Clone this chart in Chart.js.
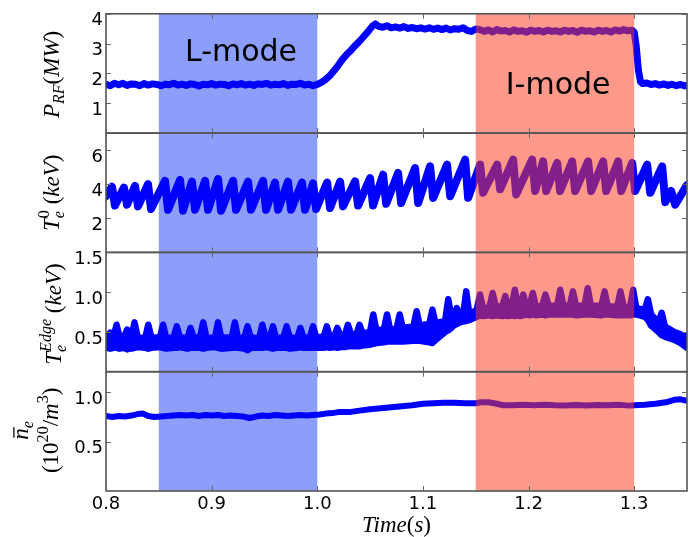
<!DOCTYPE html>
<html>
<head>
<meta charset="utf-8">
<script src="https://cdn.jsdelivr.net/npm/chart.js@4.4.1/dist/chart.umd.min.js"></script>
<style>
  html, body { margin: 0; padding: 0; background: #fff; }
  canvas { display: block; }
</style>
</head>
<body>
<canvas id="c" width="695" height="537"></canvas>
<script>
// ---- Time axis ----
const xTickValues = [0.8, 0.9, 1.0, 1.1, 1.2, 1.3];
const xTickLabels = ['0.8', '0.9', '1.0', '1.1', '1.2', '1.3'];
const lModeSpan = [0.85, 1.0];
const iModeSpan = [1.15, 1.3];

// ---- RF heating power (MW) ----
const prfTime = [0.800,0.804,0.808,0.812,0.816,0.820,0.824,0.828,0.832,0.836,0.840,0.844,0.848,0.852,0.856,0.860,0.864,0.868,0.872,0.876,0.880,0.884,0.888,0.892,0.896,0.900,0.904,0.908,0.912,0.916,0.920,0.924,0.928,0.932,0.936,0.940,0.944,0.948,0.952,0.956,0.960,0.964,0.968,0.972,0.976,0.980,0.984,0.988,0.992,0.996,1.000,1.004,1.008,1.012,1.016,1.020,1.024,1.028,1.032,1.036,1.040,1.044,1.048,1.052,1.055,1.058,1.062,1.066,1.070,1.074,1.078,1.082,1.086,1.090,1.094,1.098,1.102,1.106,1.110,1.114,1.118,1.122,1.126,1.130,1.134,1.138,1.142,1.146,1.150,1.154,1.158,1.162,1.166,1.170,1.174,1.178,1.182,1.186,1.190,1.194,1.198,1.202,1.206,1.210,1.214,1.218,1.222,1.226,1.230,1.234,1.238,1.242,1.246,1.250,1.254,1.258,1.262,1.266,1.270,1.274,1.278,1.282,1.286,1.290,1.294,1.298,1.300,1.302,1.304,1.306,1.308,1.312,1.316,1.320,1.324,1.328,1.332,1.336,1.340,1.344,1.348,1.350];
const prfValue = [1.64,1.59,1.67,1.62,1.67,1.60,1.65,1.64,1.59,1.66,1.61,1.65,1.63,1.59,1.64,1.62,1.67,1.61,1.64,1.60,1.65,1.63,1.58,1.64,1.62,1.66,1.61,1.64,1.63,1.59,1.65,1.62,1.66,1.61,1.64,1.60,1.65,1.63,1.67,1.61,1.64,1.62,1.66,1.60,1.64,1.63,1.67,1.61,1.64,1.59,1.63,1.70,1.80,1.93,2.10,2.28,2.48,2.64,2.78,2.94,3.08,3.24,3.40,3.58,3.66,3.58,3.55,3.60,3.53,3.56,3.52,3.57,3.51,3.54,3.50,3.53,3.49,3.53,3.48,3.52,3.47,3.52,3.46,3.50,3.48,3.53,3.44,3.41,3.49,3.47,3.41,3.46,3.39,3.47,3.42,3.44,3.39,3.46,3.41,3.43,3.38,3.45,3.41,3.44,3.39,3.45,3.41,3.43,3.39,3.45,3.41,3.44,3.38,3.45,3.41,3.43,3.39,3.45,3.41,3.44,3.39,3.46,3.42,3.47,3.43,3.45,3.38,2.90,2.10,1.72,1.66,1.68,1.63,1.66,1.61,1.65,1.60,1.64,1.59,1.63,1.58,1.60];

// ---- Central electron temperature (keV), sawtooth peaks and crashes ----
const te0Time = [0.8000,0.8057,0.8085,0.8170,0.8199,0.8275,0.8303,0.8398,0.8426,0.8559,0.8587,0.8701,0.8729,0.8814,0.8843,0.8938,0.8966,0.9061,0.9089,0.9203,0.9231,0.9345,0.9373,0.9487,0.9515,0.9600,0.9629,0.9723,0.9752,0.9856,0.9884,0.9960,0.9989,1.0093,1.0121,1.0216,1.0244,1.0358,1.0386,1.0500,1.0528,1.0623,1.0652,1.0765,1.0794,1.0926,1.0955,1.1068,1.1097,1.1229,1.1258,1.1400,1.1428,1.1542,1.1570,1.1703,1.1731,1.1854,1.1883,1.2034,1.2063,1.2138,1.2167,1.2271,1.2299,1.2413,1.2441,1.2564,1.2593,1.2706,1.2735,1.2848,1.2877,1.2981,1.3009,1.3123,1.3152,1.3265,1.3294,1.3350,1.3388,1.3500];
const te0Value = [3.30,3.85,2.75,3.80,2.80,3.90,2.70,4.00,2.55,4.20,2.50,4.25,2.45,4.15,2.50,4.20,2.50,4.30,2.45,4.20,2.50,4.15,2.50,4.20,2.50,4.10,2.50,4.15,2.50,4.10,2.50,4.05,2.55,4.10,2.60,4.15,2.70,4.17,2.75,4.36,2.75,4.56,2.85,4.66,2.90,4.95,2.90,5.05,3.20,5.15,3.30,5.44,3.20,5.15,3.50,5.15,3.70,5.44,3.40,5.44,3.60,5.34,3.60,5.25,3.60,5.34,3.60,5.34,3.60,5.34,3.60,5.34,3.60,5.25,3.60,5.15,3.50,5.05,2.95,3.60,2.80,3.95];

// ---- Edge electron temperature (keV): upper and lower envelope of the trace ----
const edgeTime = [0.800,0.801,0.804,0.807,0.807,0.810,0.813,0.817,0.820,0.823,0.824,0.827,0.830,0.837,0.840,0.843,0.851,0.854,0.857,0.864,0.867,0.870,0.877,0.880,0.883,0.889,0.892,0.895,0.903,0.906,0.909,0.919,0.922,0.925,0.931,0.934,0.937,0.945,0.948,0.951,0.955,0.958,0.961,0.968,0.971,0.974,0.981,0.984,0.987,0.993,0.996,0.999,1.006,1.009,1.012,1.016,1.019,1.022,1.026,1.029,1.032,1.037,1.040,1.043,1.050,1.053,1.056,1.063,1.066,1.069,1.075,1.078,1.081,1.091,1.094,1.097,1.106,1.109,1.112,1.121,1.124,1.127,1.129,1.132,1.135,1.138,1.141,1.144,1.151,1.154,1.157,1.163,1.166,1.169,1.175,1.178,1.181,1.184,1.187,1.190,1.192,1.195,1.198,1.201,1.204,1.207,1.213,1.216,1.219,1.227,1.230,1.233,1.239,1.242,1.245,1.253,1.256,1.259,1.269,1.272,1.275,1.284,1.287,1.290,1.296,1.299,1.302,1.310,1.313,1.316,1.323,1.326,1.329,1.338,1.344,1.350];
const edgeHigh = [0.44,0.44,0.49,0.43,0.43,0.59,0.43,0.43,0.53,0.42,0.43,0.62,0.43,0.42,0.59,0.43,0.43,0.59,0.42,0.43,0.57,0.43,0.42,0.55,0.43,0.43,0.62,0.43,0.42,0.62,0.43,0.43,0.62,0.42,0.43,0.57,0.43,0.42,0.59,0.43,0.43,0.57,0.42,0.43,0.57,0.43,0.42,0.55,0.43,0.43,0.57,0.43,0.44,0.57,0.44,0.44,0.55,0.45,0.46,0.59,0.47,0.47,0.59,0.48,0.50,0.72,0.52,0.53,0.72,0.53,0.54,0.72,0.55,0.57,0.76,0.58,0.60,0.78,0.61,0.64,0.91,0.68,0.69,0.80,0.70,0.71,1.01,0.72,0.78,0.97,0.80,0.81,0.99,0.82,0.82,0.95,0.82,0.82,1.03,0.83,0.82,0.97,0.82,0.83,0.99,0.82,0.83,0.97,0.83,0.83,1.03,0.83,0.83,1.01,0.83,0.83,1.05,0.83,0.83,1.01,0.82,0.82,1.01,0.82,0.81,1.03,0.80,0.78,0.91,0.72,0.62,0.74,0.57,0.50,0.47,0.44];
const edgeLow = [0.31,0.30,0.29,0.30,0.31,0.30,0.29,0.30,0.28,0.30,0.29,0.30,0.31,0.30,0.29,0.30,0.31,0.30,0.29,0.30,0.30,0.31,0.29,0.30,0.30,0.30,0.29,0.30,0.31,0.30,0.29,0.30,0.30,0.30,0.29,0.27,0.30,0.30,0.30,0.31,0.30,0.29,0.30,0.30,0.30,0.29,0.30,0.31,0.30,0.30,0.30,0.30,0.30,0.31,0.30,0.31,0.30,0.31,0.31,0.32,0.32,0.32,0.32,0.33,0.34,0.35,0.36,0.37,0.38,0.38,0.38,0.38,0.38,0.39,0.39,0.39,0.37,0.36,0.40,0.50,0.52,0.55,0.58,0.60,0.62,0.63,0.64,0.65,0.69,0.71,0.70,0.71,0.70,0.71,0.70,0.71,0.70,0.71,0.70,0.71,0.70,0.71,0.72,0.71,0.72,0.71,0.72,0.71,0.72,0.72,0.72,0.72,0.72,0.72,0.71,0.72,0.72,0.72,0.71,0.72,0.72,0.71,0.71,0.71,0.71,0.72,0.72,0.69,0.65,0.58,0.50,0.46,0.44,0.40,0.36,0.30];

// ---- Line-averaged density (10^20 m^-3) ----
const neTime = [0.800,0.806,0.812,0.818,0.824,0.830,0.835,0.840,0.846,0.852,0.858,0.864,0.870,0.876,0.882,0.888,0.894,0.900,0.906,0.912,0.918,0.924,0.930,0.936,0.942,0.948,0.954,0.960,0.966,0.972,0.978,0.984,0.990,0.996,1.002,1.008,1.014,1.020,1.030,1.040,1.050,1.060,1.070,1.080,1.090,1.100,1.110,1.120,1.130,1.140,1.150,1.155,1.162,1.170,1.176,1.185,1.195,1.205,1.215,1.225,1.235,1.245,1.255,1.265,1.275,1.285,1.295,1.300,1.310,1.320,1.330,1.338,1.344,1.350];
const neValue = [0.76,0.75,0.76,0.755,0.765,0.78,0.785,0.76,0.75,0.755,0.76,0.765,0.77,0.765,0.77,0.76,0.77,0.765,0.77,0.76,0.765,0.76,0.755,0.74,0.755,0.765,0.76,0.77,0.765,0.76,0.765,0.77,0.765,0.77,0.775,0.785,0.79,0.80,0.80,0.815,0.83,0.84,0.85,0.86,0.87,0.885,0.89,0.895,0.895,0.89,0.89,0.90,0.90,0.885,0.87,0.87,0.875,0.87,0.875,0.87,0.868,0.872,0.868,0.872,0.87,0.874,0.866,0.87,0.875,0.885,0.90,0.925,0.93,0.915];

// ---- Y tick values and labels per panel ----
const prfTicks = [1, 2, 3, 4],      prfTickLabels = ['1', '2', '3', '4'];
const te0Ticks = [2, 4, 6],         te0TickLabels = ['2', '4', '6'];
const edgeTicks = [0.5, 1.0, 1.5],  edgeTickLabels = ['0.5', '1.0', '1.5'];
const neTicks = [0.5, 1.0],         neTickLabels = ['0.5', '1.0'];

const toPoints = (xs, ys) => xs.map((x, i) => ({ x, y: ys[i] }));

const TRACE = '#0000ff';
const TICK_FONT = { family: 'DejaVu Sans', size: 18 };
const PANELS = ['yPrf', 'yTe0', 'yEdge', 'yNe'];

function panelAxis(weight, min, max, values, labels) {
  return {
    type: 'linear',
    position: 'left',
    stack: 'panels',
    stackWeight: 1,
    weight,
    min, max,
    grid: { display: false, drawTicks: false },
    border: { display: false },
    afterBuildTicks: s => { s.ticks = values.map(v => ({ value: v })); },
    afterFit: s => { s.width = 106; },
    ticks: {
      autoSkip: false,
      padding: 3,
      labelOffset: 7,
      color: '#000',
      font: TICK_FONT,
      callback: (v, i) => labels[i]
    }
  };
}

// Mathtext-like label: pieces drawn along one baseline, optionally rotated
function drawMath(ctx, pieces, size, x, y, rotate) {
  ctx.save();
  ctx.translate(x, y);
  if (rotate) ctx.rotate(-Math.PI / 2);
  ctx.fillStyle = '#000';
  ctx.textBaseline = 'alphabetic';
  ctx.textAlign = 'left';
  const fontOf = p => (p.it ? 'italic ' : '') + (size * (p.f || 1)).toFixed(1) + 'px "Liberation Serif", "DejaVu Serif", serif';
  let cursor = 0, pending = 0;
  const placed = pieces.map(p => {
    ctx.font = fontOf(p);
    const w = ctx.measureText(p.s).width;
    const at = cursor;
    if (p.stack) pending = Math.max(pending, w);
    else { cursor += Math.max(pending, w); pending = 0; }
    return { p, at, w };
  });
  const start = -cursor / 2;
  placed.forEach(({ p, at, w }) => {
    ctx.font = fontOf(p);
    const dy = -(p.y || 0) * size;
    ctx.fillText(p.s, start + at, dy);
    if (p.ov) ctx.fillRect(start + at + 2, dy - size * 0.64, w - 1, Math.max(1, size * 0.055));
  });
  ctx.restore();
}

const SUB = -0.22, SUP = 0.42;
const yTitles = {
  yPrf: [[{ s: 'P', it: 1 }, { s: 'RF', it: 1, f: 0.7, y: SUB }, { s: '(' }, { s: 'MW', it: 1 }, { s: ')' }]],
  yTe0: [[{ s: 'T', it: 1 }, { s: '0', f: 0.7, y: SUP, stack: 1 }, { s: 'e', it: 1, f: 0.7, y: SUB }, { s: ' ' }, { s: '(' }, { s: 'keV', it: 1 }, { s: ')' }]],
  yEdge: [[{ s: 'T', it: 1 }, { s: 'Edge', it: 1, f: 0.7, y: 0.45, stack: 1 }, { s: 'e', it: 1, f: 0.7, y: SUB }, { s: ' ' }, { s: '(' }, { s: 'keV', it: 1 }, { s: ')' }]],
  yNe: [[{ s: 'n', it: 1, ov: 1 }, { s: 'e', it: 1, f: 0.7, y: SUB }],
        [{ s: '(' }, { s: '10' }, { s: '20', f: 0.7, y: SUP }, { s: '/' }, { s: 'm', it: 1 }, { s: '3', f: 0.7, y: SUP }, { s: ')' }]]
};
// baseline x of each title line and its shift along the panel
const titleBase = { yPrf: [[59, 1]], yTe0: [[59, 0]], yEdge: [[61, 2]], yNe: [[28, -1], [58, -1]] };

const panelDecor = {
  id: 'panelDecor',
  beforeDatasetsDraw(chart) {
    const { ctx, chartArea: a, scales: { x } } = chart;
    const x0 = x.getPixelForValue(lModeSpan[0]);
    const x1 = x.getPixelForValue(lModeSpan[1]);
    ctx.save();
    ctx.fillStyle = 'rgb(140,158,250)';
    ctx.fillRect(x0, a.top, x1 - x0, a.bottom - a.top);
    ctx.restore();
  },
  afterDatasetsDraw(chart) {
    const { ctx, chartArea: a, scales } = chart;
    const x = scales.x;
    // translucent I-mode window over the traces
    const r0 = x.getPixelForValue(iModeSpan[0]);
    const r1 = x.getPixelForValue(iModeSpan[1]);
    ctx.save();
    ctx.fillStyle = 'rgba(250,60,30,0.52)';
    ctx.fillRect(r0, a.top, r1 - r0, a.bottom - a.top);

    // panel frames and inward ticks
    ctx.strokeStyle = '#555';
    ctx.lineWidth = 1.6;
    PANELS.forEach(id => {
      const s = scales[id];
      ctx.strokeRect(a.left, s.top, a.right - a.left, s.bottom - s.top);
    });
    ctx.strokeStyle = '#666';
    ctx.lineWidth = 1;
    ctx.beginPath();
    PANELS.forEach(id => {
      const s = scales[id];
      xTickValues.forEach(v => {
        const px = Math.round(x.getPixelForValue(v)) + 0.5;
        ctx.moveTo(px, s.top); ctx.lineTo(px, s.top + 5);
        ctx.moveTo(px, s.bottom); ctx.lineTo(px, s.bottom - 5);
      });
      s.ticks.forEach(t => {
        const py = Math.round(s.getPixelForValue(t.value)) + 0.5;
        ctx.moveTo(a.left, py); ctx.lineTo(a.left + 5, py);
        ctx.moveTo(a.right, py); ctx.lineTo(a.right - 5, py);
      });
    });
    ctx.stroke();

    // regime labels
    const yP = scales.yPrf;
    ctx.fillStyle = '#000';
    ctx.font = '30px "DejaVu Sans", sans-serif';
    ctx.textAlign = 'center';
    ctx.textBaseline = 'alphabetic';
    ctx.fillText('L-mode', x.getPixelForValue(0.9278), yP.getPixelForValue(2.41));
    ctx.fillText('I-mode', x.getPixelForValue(1.228), yP.getPixelForValue(1.30));
    ctx.restore();
  },
  afterDraw(chart) {
    const { ctx, chartArea: a, scales } = chart;
    PANELS.forEach(id => {
      const s = scales[id];
      const mid = (s.top + s.bottom) / 2;
      yTitles[id].forEach((line, k) => {
        const [bx, shift] = titleBase[id][k];
        drawMath(ctx, line, 23, bx, mid + shift, true);
      });
    });
    const tx = (a.left + a.right) / 2;
    drawMath(ctx, [{ s: 'Time', it: 1 }, { s: '(' }, { s: 's', it: 1 }, { s: ')' }], 23, tx, 532, false);
  }
};

const lineStyle = (width) => ({
  borderColor: TRACE,
  backgroundColor: TRACE,
  borderWidth: width,
  pointRadius: 0,
  tension: 0,
  fill: false,
  borderJoinStyle: 'round',
  borderCapStyle: 'round'
});

new Chart(document.getElementById('c'), {
  type: 'line',
  data: {
    datasets: [
      Object.assign({ label: 'P_RF', yAxisID: 'yPrf', data: toPoints(prfTime, prfValue) }, lineStyle(7)),
      Object.assign({ label: 'Te0', yAxisID: 'yTe0', data: toPoints(te0Time, te0Value) }, lineStyle(8)),
      Object.assign({ label: 'TeEdge high', yAxisID: 'yEdge', data: toPoints(edgeTime, edgeHigh) }, lineStyle(6.5), { fill: '+1' }),
      Object.assign({ label: 'TeEdge low', yAxisID: 'yEdge', data: toPoints(edgeTime, edgeLow) }, lineStyle(6.5)),
      Object.assign({ label: 'ne', yAxisID: 'yNe', data: toPoints(neTime, neValue) }, lineStyle(6))
    ]
  },
  options: {
    responsive: false,
    animation: false,
    devicePixelRatio: 1,
    layout: { padding: { left: 0, right: 8, top: 10, bottom: 0 } },
    plugins: { legend: { display: false }, tooltip: { enabled: false } },
    scales: {
      x: {
        type: 'linear',
        position: 'bottom',
        min: 0.8, max: 1.35,
        grid: { display: false, drawTicks: false },
        border: { display: false },
        afterBuildTicks: s => { s.ticks = xTickValues.map(v => ({ value: v })); },
        afterFit: s => { s.height = 46; },
        ticks: {
          autoSkip: false,
          maxRotation: 0,
          padding: 3,
          color: '#000',
          font: TICK_FONT,
          callback: (v, i) => xTickLabels[i]
        }
      },
      yNe: panelAxis(1, 0, 1.21, neTicks, neTickLabels),
      yEdge: panelAxis(2, 0, 1.5, edgeTicks, edgeTickLabels),
      yTe0: panelAxis(3, 0, 7, te0Ticks, te0TickLabels),
      yPrf: panelAxis(4, 0, 4, prfTicks, prfTickLabels)
    }
  },
  plugins: [panelDecor]
});
</script>
</body>
</html>
